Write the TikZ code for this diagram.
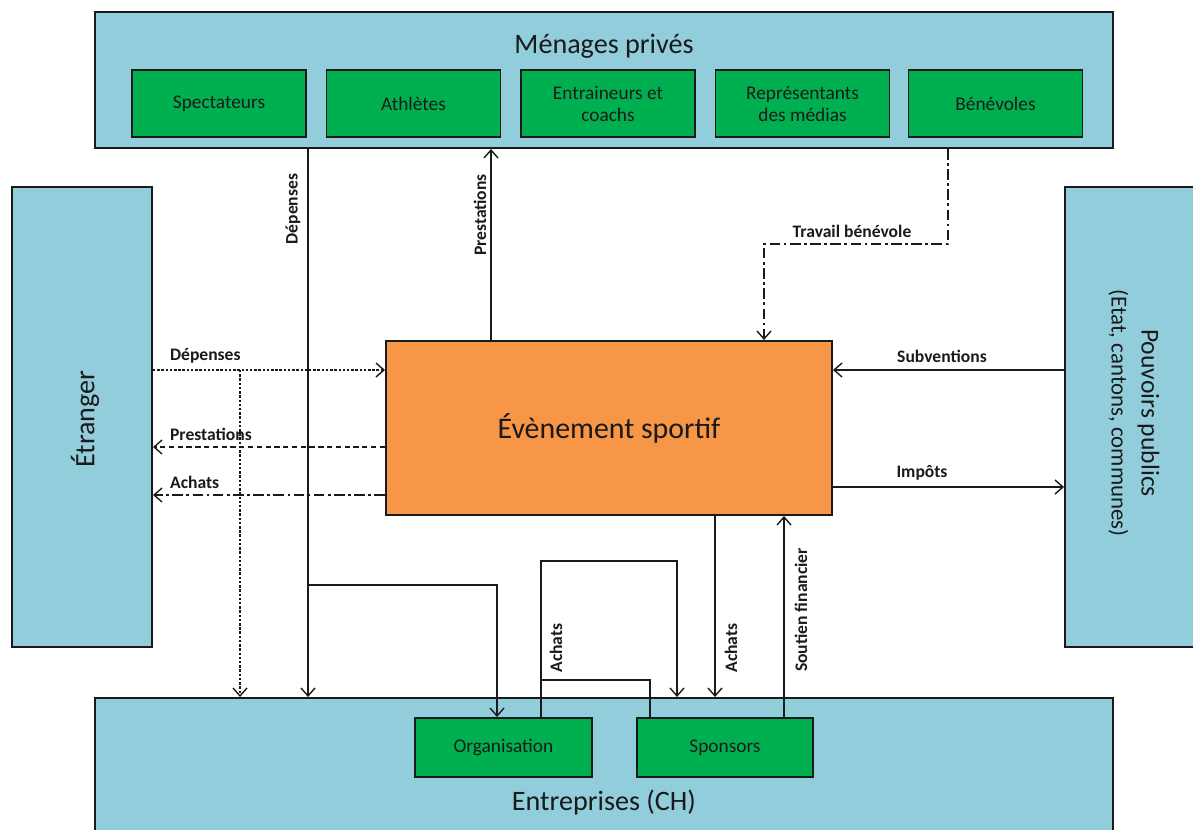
\documentclass[tikz,border=0pt]{standalone}
\usepackage{fontspec}
\setmainfont{Carlito}
\usetikzlibrary{arrows.meta, positioning, calc}
\definecolor{evBlue}{HTML}{92CDDC}
\definecolor{evGreen}{HTML}{00B050}
\definecolor{evOrange}{HTML}{F79646}
\definecolor{evInk}{HTML}{1A1A1A}
\tikzset{
  sector/.style={
    draw=evInk, line width=1.1pt, fill=evBlue, inner sep=0pt
  },
  actor/.style={
    draw=evInk, line width=1.1pt, fill=evGreen, align=center,
    minimum width=3.48cm, minimum height=1.34cm,
    font=\fontsize{11}{12.5}\selectfont, text=evInk
  },
  event/.style={
    draw=evInk, line width=1.1pt, fill=evOrange,
    minimum width=8.92cm, minimum height=3.48cm,
    font=\fontsize{17}{20}\selectfont, text=evInk
  },
  title/.style={font=\fontsize{16}{19}\selectfont, text=evInk, inner sep=0pt},
  flow/.style={-{Straight Barb[length=1.6mm, width=2.8mm]}, line width=0.8pt, draw=evInk},
  flowdot/.style={flow, dash pattern=on 1.4pt off 1pt},
  flowdash/.style={flow, dash pattern=on 3pt off 2pt},
  flowdd/.style={flow, dash pattern=on 6pt off 2pt on 1.5pt off 2pt},
  lbl/.style={font=\fontsize{10}{12}\selectfont\bfseries, text=evInk, inner sep=1pt},
}

\begin{document}
\begin{tikzpicture}
  \useasboundingbox (0,0) rectangle (23.86,-16.6);
  \begin{scope}
  \clip (0,0) rectangle (23.86,-16.6);

  % the four sectors
  \node[sector, minimum width=20.36cm, minimum height=2.72cm] (men) at (12.08,-1.6) {};
  \node[sector, minimum width=2.8cm, minimum height=9.2cm] (etr) at (1.64,-8.34) {};
  \node[sector, minimum width=2.8cm, minimum height=9.2cm] (pub) at (22.7,-8.34) {};
  \node[sector, minimum width=20.36cm, minimum height=3.2cm] (ent) at (12.08,-15.56) {};
  \end{scope}

  \node[title] (mentxt) at (12.08,-0.92) {Ménages privés};
  \node[title, rotate=90] (etrtxt) at (1.7,-8.38) {Étranger};
  \node[title, rotate=-90, align=center, font=\fontsize{14.6}{17}\selectfont] (pubtxt) at (22.68,-8.26)
    {Pouvoirs publics\\{\fontsize{13}{15}\selectfont (Etat, cantons, communes)}};
  \node[title] (enttxt) at (12.08,-16.04) {Entreprises (CH)};

  % households
  \node[actor] (spe) at (4.38,-2.07) {Spectateurs};
  \node[actor] (ath) at (8.27,-2.07) {Athlètes};
  \node[actor] (coa) at (12.16,-2.07) {Entraineurs et\\coachs};
  \node[actor] (med) at (16.05,-2.07) {Représentants\\des médias};
  \node[actor] (ben) at (19.91,-2.07) {Bénévoles};

  % firms
  \node[actor, minimum width=3.54cm, minimum height=1.18cm] (org) at (10.07,-14.95) {Organisation};
  \node[actor, minimum width=3.52cm, minimum height=1.18cm] (spo) at (14.5,-14.95) {Sponsors};

  \node[event] (evt) at (12.18,-8.56) {Évènement sportif};

  % households and the event
  \draw[flow] (6.16,0 |- men.south) -- (6.16,0 |- ent.north);
  \coordinate (depx) at (6.16,-11.7);
  \draw[flow] (depx) -| (9.94,0 |- org.north);
  \node[lbl, rotate=90] (depl) at (5.86,-4.18) {Dépenses};
  \draw[flow] (9.82,0 |- evt.north) -- (9.82,0 |- men.south);
  \node[lbl, rotate=90] (prel) at (9.6,-4.3) {Prestations};
  \draw[flowdd] (18.96,0 |- men.south) |- (15.28,-4.88) -- (15.28,0 |- evt.north);
  \node[lbl] (benl) at (17.04,-4.62) {Travail bénévole};

  % public authorities
  \draw[flow] (pub.west |- 0,-7.4) -- (evt.east |- 0,-7.4);
  \node[lbl] (subl) at (18.84,-7.12) {Subventions};
  \draw[flow] (evt.east |- 0,-9.74) -- (pub.west |- 0,-9.74);
  \node[lbl] (impl) at (18.44,-9.46) {Impôts};

  % abroad
  \draw[flowdot] (etr.east |- 0,-7.4) -- (evt.west |- 0,-7.4);
  \draw[flowdot] (4.8,-7.4) -- (4.8,0 |- ent.north);
  \node[lbl, anchor=west] (etrdep) at (3.36,-7.12) {Dépenses};
  \draw[flowdash] (evt.west |- 0,-8.94) -- (etr.east |- 0,-8.94);
  \node[lbl, anchor=west] (etrpre) at (3.36,-8.68) {Prestations};
  \draw[flowdd] (evt.west |- 0,-9.9) -- (etr.east |- 0,-9.9);
  \node[lbl, anchor=west] (etrach) at (3.36,-9.64) {Achats};

  % firms and the event
  \draw[flow] (10.82,0 |- org.north) |- (13.54,-11.22) -- (13.54,0 |- ent.north);
  \draw[line width=0.8pt, draw=evInk] (13.0,0 |- spo.north) |- (10.82,-13.6);
  \node[lbl, rotate=90] (orgach) at (11.12,-12.96) {Achats};
  \draw[flow] (14.3,0 |- evt.south) -- (14.3,0 |- ent.north);
  \node[lbl, rotate=90] (evtach) at (14.62,-12.96) {Achats};
  \draw[flow] (15.68,0 |- spo.north) -- (15.68,0 |- evt.south);
  \node[lbl, rotate=90] (spol) at (16.02,-12.2) {Soutien financier};
\end{tikzpicture}
\end{document}
